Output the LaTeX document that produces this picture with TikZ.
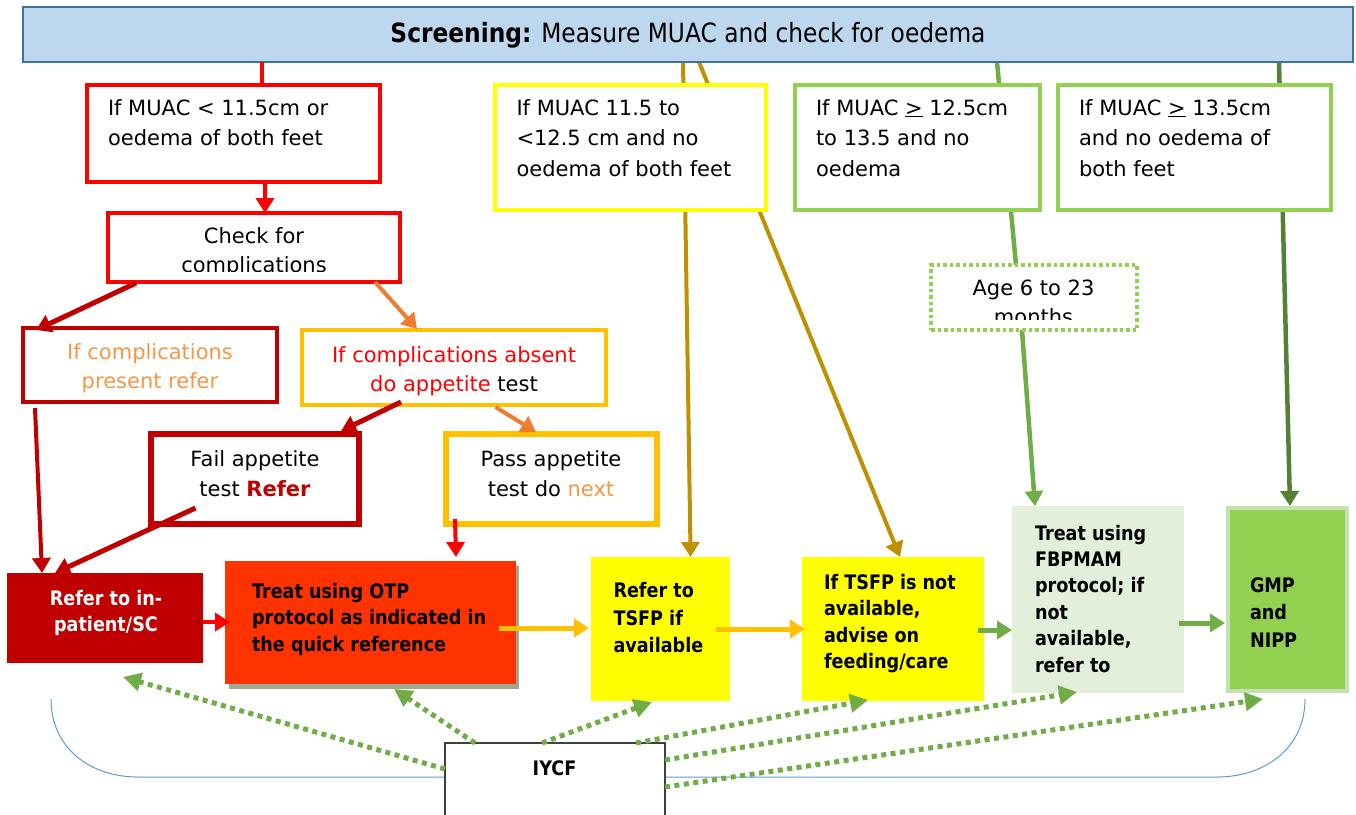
\documentclass[tikz,border=0pt]{standalone}
\usepackage{fontspec}
\setmainfont{DejaVu Sans}
\newfontfamily\condfont[FakeStretch=0.88]{DejaVu Sans}
\usetikzlibrary{arrows.meta,calc,fit}
\pgfdeclarelayer{bg}
\pgfsetlayers{bg,main}
\definecolor{barfill}{HTML}{BDD7EE}
\definecolor{barline}{HTML}{41719C}
\definecolor{redc}{HTML}{FF0000}
\definecolor{dredc}{HTML}{C00000}
\definecolor{goldc}{HTML}{FFC000}
\definecolor{yelc}{HTML}{FFFF00}
\definecolor{lgreenc}{HTML}{92D050}
\definecolor{mgreenc}{HTML}{70AD47}
\definecolor{dgreenc}{HTML}{548235}
\definecolor{ochrec}{HTML}{BF9000}
\definecolor{orangec}{HTML}{ED7D31}
\definecolor{otextc}{HTML}{F79646}
\definecolor{otpc}{HTML}{FF3300}
\definecolor{shadc}{HTML}{9DAA8F}
\definecolor{fbpc}{HTML}{E2EFDA}
\definecolor{gmpline}{HTML}{C5E0B4}
\definecolor{bluec}{HTML}{5B9BD5}
\definecolor{iycfline}{HTML}{404040}
\begin{document}
\begin{tikzpicture}[x=1pt,y=-1pt,
  bx/.style={inner sep=0pt, outer sep=0pt, line width=3.5pt},
  rt/.style={inner sep=0pt, outer sep=0pt, anchor=north west, align=left, font=\fontsize{21}{30.5}\selectfont},
  ct/.style={inner sep=0pt, outer sep=0pt, anchor=north, align=center, font=\fontsize{21}{29.5}\selectfont},
  bt/.style={inner sep=0pt, outer sep=0pt, anchor=north west, align=left, font=\condfont\bfseries\fontsize{20}{26.5}\selectfont},
  arr/.style={-{Triangle[length=15pt,width=18pt]}, line width=4pt},
  dt/.style={draw=mgreenc, line width=5pt, dash pattern=on 5pt off 4.5pt, -{Triangle[length=18pt,width=18pt]}}]
\useasboundingbox (0,0) rectangle (1356,814);

% top bar
\node[bx, draw=barline, fill=barfill, line width=2.5pt, fit={(23,7) (1353,62)}] (bar) {};
\node[inner sep=0pt, anchor=base, font=\condfont\fontsize{26.5}{30}\selectfont] (bart) at (688,42.7) {\textbf{Screening:} Measure MUAC and check for oedema};

% first row boxes
\node[bx, draw=redc, fill=white, fit={(87,85) (380,182)}] (b1) {};
\node[bx, draw=yelc, fill=white, fit={(495,85) (766,210)}] (b2) {};
\node[bx, draw=lgreenc, fill=white, fit={(795,85) (1040,210)}] (b3) {};
\node[bx, draw=lgreenc, fill=white, fit={(1058,85) (1331,210)}] (b4) {};
\node[rt] (t1) at (108,98) {\rule{0pt}{17pt}If MUAC < 11.5cm or\\oedema of both feet};
\node[rt] (t2) at (516.5,98) {\rule{0pt}{17pt}If MUAC 11.5 to\\<12.5 cm and no\\oedema of both feet};
\node[rt] (t3) at (816,98) {\rule{0pt}{17pt}If MUAC \underline{>} 12.5cm\\to 13.5 and no\\oedema};
\node[rt] (t4) at (1079,98) {\rule{0pt}{17pt}If MUAC \underline{>} 13.5cm\\and no oedema of\\both feet};

% check for complications
\node[bx, draw=redc, fill=white, fit={(108,213) (400,282)}] (chk) {};
\begin{scope}
\clip (100,200) rectangle (410,271);
\node[ct] (chkt) at (254,226.3) {\rule{0pt}{17pt}Check for\\complications};
\end{scope}

% complications present / absent
\node[bx, draw=dredc, fill=white, fit={(23,328) (277,402)}] (pres) {};
\node[ct, text=otextc] (prest) at (150,342.3) {\rule{0pt}{17pt}If complications\\present refer};
\node[bx, draw=goldc, fill=white, fit={(302,330) (606,405)}] (abs) {};
\node[ct] (abst) at (454,345) {\rule{0pt}{17pt}\textcolor{redc}{If complications absent}\\\textcolor{redc}{do appetite} test};

% fail / pass
\node[bx, draw=dredc, fill=white, line width=5.5pt, fit={(151,434) (359,524)}] (fail) {};
\node[ct] (failt) at (255,449.7) {\rule{0pt}{17pt}Fail appetite\\test \textcolor{dredc}{\textbf{Refer}}};
\node[bx, draw=goldc, fill=white, line width=5.5pt, fit={(446,434) (657,524)}] (pass) {};
\node[ct] (passt) at (551,449.7) {\rule{0pt}{17pt}Pass appetite\\test do \textcolor{otextc}{next}};

% age box
\node[bx, draw=lgreenc, fill=white, dash pattern=on 3.5pt off 3pt, fit={(931,265) (1137,330)}] (age) {};
\begin{scope}
\clip (925,255) rectangle (1145,319);
\node[ct] (aget) at (1033.5,278) {\rule{0pt}{17pt}Age 6 to 23\\months};
\end{scope}

% bottom row
\node[bx, fill=dredc, fit={(7,573) (203,663)}] (inp) {};
\node[inner sep=0pt, anchor=north, align=center, text=white, font=\condfont\bfseries\fontsize{20}{26}\selectfont] (inpt) at (106,590.5) {\rule{0pt}{14.5pt}Refer to in-\\patient/SC};
\fill[shadc] (229,566) rectangle (519,689);
\node[bx, fill=otpc, fit={(225,561) (516,684)}] (otp) {};
\node[bt] (otpt) at (252,582.8) {\rule{0pt}{14.5pt}Treat using OTP\\protocol as indicated in\\the quick reference};
\node[bx, fill=yelc, fit={(591,557) (730,701)}] (tsfp) {};
\node[bt, font=\condfont\bfseries\fontsize{20}{27.5}\selectfont] (tsfpt) at (613.5,582.5) {\rule{0pt}{14.5pt}Refer to\\TSFP if\\available};
\node[bx, fill=yelc, fit={(802,557) (984,701)}] (tnot) {};
\node[bt] (tnott) at (824,573.8) {\rule{0pt}{14.5pt}If TSFP is not\\available,\\advise on\\feeding/care};
\node[bx, fill=fbpc, fit={(1012,506) (1184,693)}] (fbp) {};
\node[bt, font=\condfont\bfseries\fontsize{20}{26.4}\selectfont] (fbpt) at (1035,524.8) {\rule{0pt}{14.5pt}Treat using\\FBPMAM\\protocol; if\\not\\available,\\refer to};
\node[bx, draw=gmpline, fill=lgreenc, line width=4pt, fit={(1228,508) (1347,691)}] (gmp) {};
\node[bt, font=\condfont\bfseries\fontsize{20}{27.5}\selectfont] (gmpt) at (1250,577.2) {\rule{0pt}{14.5pt}GMP\\and\\NIPP};

% pass-through connectors (behind boxes)
\begin{pgfonlayer}{bg}
\draw[ochrec, arr] ($(bar.south west)+(660,0)$) -- ($(tsfp.north west)+(99.6,0)$);
\draw[ochrec, arr] ($(bar.south west)+(676,0)$) -- ($(tnot.north west)+(98,0)$);
\draw[mgreenc, line width=4.5pt] ($(bar.south west)+(974,0)$) -- ($(age.north west)+(85,0)$);
\draw[mgreenc, arr, line width=4.5pt] ($(age.south west)+(91,0)$) -- ($(fbp.north west)+(23,0)$);
\draw[dgreenc, arr, line width=4.5pt] ($(bar.south west)+(1256,0)$) -- ($(gmp.north west)+(62,-2)$);
\draw[bluec, line width=1pt] (51,699) .. controls (51,748) and (90,777) .. (138,777) -- (1217,777) .. controls (1265,777) and (1305,748) .. (1305,699);
\end{pgfonlayer}

% connectors
\draw[redc, line width=4pt] ($(bar.south west)+(239,0)$) -- ($(b1.north west)+(175,0)$);
\draw[redc, arr] ($(b1.south west)+(178,0)$) -- ($(chk.north west)+(157,0)$);
\draw[dredc, arr, line width=5pt] ($(chk.south west)+(28,1)$) -- ($(pres.north west)+(13,2)$);
\draw[orangec, arr] ($(chk.south west)+(267,0)$) -- ($(abs.north west)+(115,-1)$);
\draw[dredc, arr] ($(pres.south west)+(12,6)$) -- ($(inp.north west)+(35,0)$);
\draw[dredc, arr, line width=5pt] ($(abs.south west)+(99,-3)$) -- ($(fail.north west)+(190,-3)$);
\draw[orangec, arr] ($(abs.south west)+(193.5,2)$) -- ($(pass.north west)+(90,-2)$);
\draw[dredc, arr, line width=5pt] ($(fail.south west)+(44.5,-16)$) -- ($(inp.north west)+(48,0)$);
\draw[redc, arr] ($(pass.south west)+(9,-5)$) -- ($(otp.north west)+(231,-4)$);
\draw[redc, arr] ($(inp.north east)+(0,49)$) -- ($(otp.north west)+(5,61)$);
\draw[goldc, arr, line width=5pt] ($(otp.north west)+(274,67)$) -- ($(tsfp.north west)+(-2,71)$);
\draw[goldc, arr, line width=5pt] ($(tsfp.north west)+(124.7,72)$) -- ($(tnot.north west)+(3,72)$);
\draw[mgreenc, arr, line width=5pt] ($(tnot.north west)+(175.5,73)$) -- ($(fbp.north west)+(0,124)$);
\draw[mgreenc, arr, line width=5pt] ($(fbp.north west)+(167,117)$) -- ($(gmp.north west)+(-3,115)$);

% IYCF
\node[bx, draw=iycfline, fill=white, line width=1.5pt, fit={(445,743) (665,830)}] (iycf) {};
\node[inner sep=0pt, anchor=base, font=\condfont\bfseries\fontsize{20}{26}\selectfont] (iycft) at (554.5,775) {IYCF};
\draw[dt] ($(iycf.north west)+(0,26)$) -- ($(inp.south west)+(116,14)$);
\draw[dt] ($(iycf.north west)+(30,0)$) -- ($(otp.south west)+(169,5)$);
\draw[dt] ($(iycf.north west)+(97,0)$) -- ($(tsfp.south west)+(61,1)$);
\draw[dt] ($(iycf.north west)+(191,0)$) -- ($(tnot.south west)+(66,-1)$);
\draw[dt] ($(iycf.north east)+(0,17)$) -- ($(fbp.south west)+(65,-1)$);
\draw[dt] ($(iycf.north east)+(0,44)$) -- ($(gmp.south west)+(35,8)$);
\end{tikzpicture}
\end{document}
